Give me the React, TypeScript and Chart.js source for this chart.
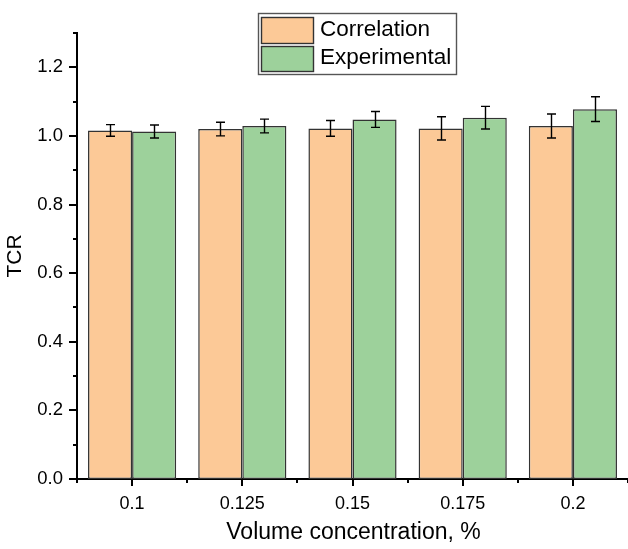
import React, { useEffect, useRef } from "react";
import { Chart, registerables } from "chart.js";

Chart.register(...registerables);

const categories = ["0.1", "0.125", "0.15", "0.175", "0.2"];
const correlation = [1.016, 1.020, 1.022, 1.022, 1.029];
const correlationErr = [0.017, 0.020, 0.023, 0.034, 0.035];
const experimental = [1.013, 1.029, 1.048, 1.053, 1.078];
const experimentalErr = [0.019, 0.020, 0.023, 0.033, 0.036];
const yMajorTicks = [0, 0.2, 0.4, 0.6, 0.8, 1.0, 1.2];
const yMinorTicks = [0.1, 0.3, 0.5, 0.7, 0.9, 1.1, 1.3];
const seriesNames = ["Correlation", "Experimental"];
const xTitle = "Volume concentration, %";
const yTitle = "TCR";

const ORANGE = "#FCC997";
const GREEN = "#9DD19B";
const EDGE = "#333333";
const FONT = "Arial, 'Liberation Sans', sans-serif";

const errors = [correlationErr, experimentalErr];

const decorPlugin = {
  id: "decor",
  afterDatasetsDraw(chart: any) {
    const ctx = chart.ctx;
    const y = chart.scales.y;
    ctx.save();
    ctx.strokeStyle = "#000";
    ctx.lineWidth = 1.4;
    chart.data.datasets.forEach((ds: any, di: number) => {
      const meta = chart.getDatasetMeta(di);
      meta.data.forEach((bar: any, i: number) => {
        const v = ds.data[i];
        const e = errors[di][i];
        const x = Math.round(bar.x) + 0.5;
        const yt = y.getPixelForValue(v + e);
        const yb = y.getPixelForValue(v - e);
        ctx.beginPath();
        ctx.moveTo(x, yt);
        ctx.lineTo(x, yb);
        ctx.moveTo(x - 4.5, yt);
        ctx.lineTo(x + 4.5, yt);
        ctx.moveTo(x - 4.5, yb);
        ctx.lineTo(x + 4.5, yb);
        ctx.stroke();
      });
    });
    ctx.restore();
  },
  afterDraw(chart: any) {
    const ctx = chart.ctx;
    const xs = chart.scales.x;
    const ys = chart.scales.y;
    const area = chart.chartArea;
    ctx.save();
    ctx.strokeStyle = "#000";
    ctx.lineWidth = 2;
    // y ticks
    ctx.beginPath();
    yMajorTicks.forEach((v) => {
      const p = Math.round(ys.getPixelForValue(v));
      ctx.moveTo(area.left - 8, p);
      ctx.lineTo(area.left, p);
    });
    yMinorTicks.forEach((v) => {
      const p = Math.round(ys.getPixelForValue(v));
      ctx.moveTo(area.left - 4, p);
      ctx.lineTo(area.left, p);
    });
    // x ticks
    categories.forEach((_c, i) => {
      const p = Math.round(xs.getPixelForValue(i));
      ctx.moveTo(p, area.bottom);
      ctx.lineTo(p, area.bottom + 7);
    });
    for (let i = 0; i <= categories.length; i++) {
      const p = Math.round(xs.getPixelForValue(i - 0.5));
      ctx.moveTo(p, area.bottom);
      ctx.lineTo(p, area.bottom + 4);
    }
    ctx.stroke();

    // titles
    ctx.fillStyle = "#000";
    ctx.font = `23px ${FONT}`;
    ctx.textAlign = "center";
    ctx.textBaseline = "alphabetic";
    ctx.fillText(xTitle, (area.left + area.right) / 2 + 1, 539);
    ctx.save();
    ctx.translate(21, (area.top + area.bottom) / 2);
    ctx.rotate(-Math.PI / 2);
    ctx.font = `21px ${FONT}`;
    ctx.fillText(yTitle, 0, 0);
    ctx.restore();

    // legend
    ctx.strokeStyle = "#555";
    ctx.lineWidth = 1.4;
    ctx.strokeRect(258.5, 13.5, 198, 61);
    const sw = [
      { y: 17, h: 26, c: ORANGE, ty: 30 },
      { y: 46, h: 25, c: GREEN, ty: 58 },
    ];
    sw.forEach((s, i) => {
      ctx.fillStyle = s.c;
      ctx.fillRect(261.5, s.y + 0.5, 52, s.h);
      ctx.strokeStyle = EDGE;
      ctx.strokeRect(261.5, s.y + 0.5, 52, s.h);
      ctx.fillStyle = "#000";
      ctx.font = `22.5px ${FONT}`;
      ctx.textAlign = "left";
      ctx.textBaseline = "middle";
      ctx.fillText(seriesNames[i], 320, s.ty);
    });
    ctx.restore();
  },
};

export default function App() {
  const ref = useRef<HTMLCanvasElement | null>(null);
  useEffect(() => {
    if (!ref.current) return;
    const chart = new Chart(ref.current, {
      type: "bar",
      data: {
        labels: categories,
        datasets: [
          {
            label: seriesNames[0],
            data: correlation,
            backgroundColor: ORANGE,
            borderColor: EDGE,
            borderWidth: 1.5,
            borderSkipped: false,
            categoryPercentage: 0.8,
            barPercentage: 1.0,
          },
          {
            label: seriesNames[1],
            data: experimental,
            backgroundColor: GREEN,
            borderColor: EDGE,
            borderWidth: 1.5,
            borderSkipped: false,
            categoryPercentage: 0.8,
            barPercentage: 1.0,
          },
        ],
      },
      options: {
        responsive: false,
        animation: false,
        layout: { padding: { top: 33, right: 0, left: 0, bottom: 0 } },
        plugins: {
          legend: { display: false },
          tooltip: { enabled: false },
        },
        scales: {
          x: {
            grid: { display: false, drawTicks: false },
            border: { display: true, color: "#000", width: 2 },
            ticks: {
              color: "#000",
              font: { family: FONT, size: 18 },
              padding: 14,
              maxRotation: 0,
            },
            afterFit: (s: any) => {
              s.height = 70;
            },
          },
          y: {
            min: 0,
            max: 1.3,
            grid: { display: false, drawTicks: false },
            border: { display: true, color: "#000", width: 2 },
            ticks: {
              color: "#000",
              font: { family: FONT, size: 18.5 },
              padding: 14,
              callback: (v: any) => Number(v).toFixed(1),
            },
            afterBuildTicks: (s: any) => {
              s.ticks = yMajorTicks.map((v) => ({ value: v }));
            },
            afterFit: (s: any) => {
              s.width = 77;
            },
          },
        },
      },
      plugins: [decorPlugin],
    } as any);
    return () => chart.destroy();
  }, []);
  return (
    <div style={{ position: "fixed", left: 0, top: 0, width: 628, height: 549, background: "#fff" }}>
      <canvas ref={ref} width={628} height={549} style={{ width: 628, height: 549 }} />
    </div>
  );
}
